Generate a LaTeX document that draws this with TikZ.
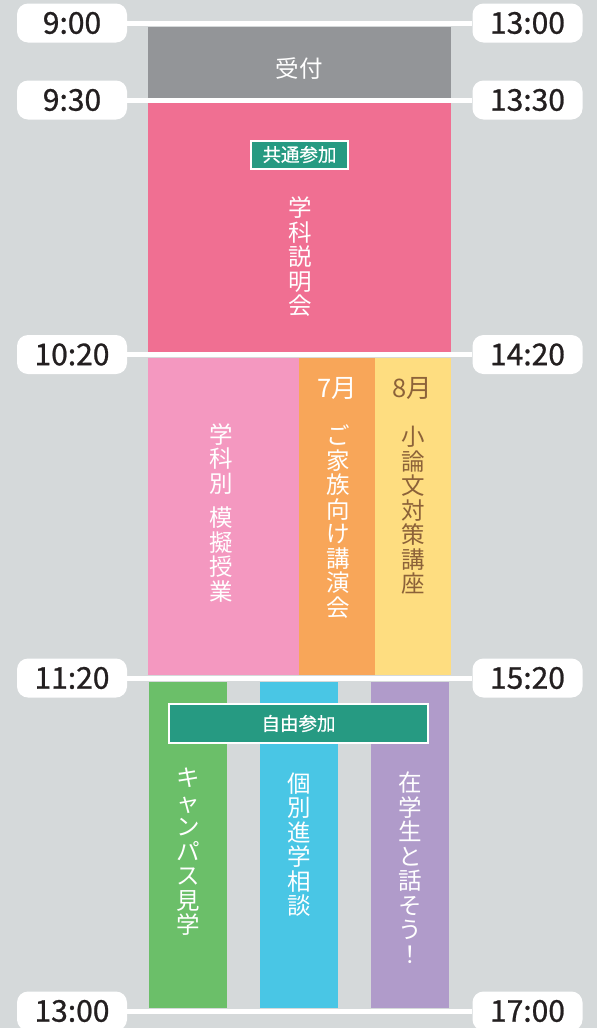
\documentclass[tikz,border=0pt]{standalone}
\usepackage{fontspec}
\setmainfont{Noto Sans CJK JP}
\newfontfamily\medfont{Noto Sans CJK JP}[FakeBold=0.8]
\definecolor{bg}{HTML}{D5D9DA}
\definecolor{cgray}{HTML}{939598}
\definecolor{cpink}{HTML}{F06F92}
\definecolor{clpink}{HTML}{F498C0}
\definecolor{corange}{HTML}{F8A659}
\definecolor{cyellow}{HTML}{FEDD80}
\definecolor{cgreen}{HTML}{6BBF69}
\definecolor{cblue}{HTML}{49C6E5}
\definecolor{cpurple}{HTML}{B09BCA}
\definecolor{cteal}{HTML}{269A82}
\definecolor{cbrown}{HTML}{8C6239}
\definecolor{cdark}{HTML}{231F20}
\tikzset{
  timebox/.style={fill=white, rounded corners=11pt, minimum width=110pt, minimum height=39pt, inner sep=0pt, text=cdark, font=\medfont\fontsize{30}{30}\selectfont},
  tline/.style={draw=white, line width=5pt},
  vtext/.style={text=white, align=center, inner sep=0pt, font=\fontsize{23.5}{24.5}\selectfont},
  htext/.style={text=white, inner sep=0pt, font=\fontsize{23.5}{24}\selectfont},
  mtext/.style={text=white, inner sep=0pt, font=\fontsize{25.5}{26}\selectfont},
  badge/.style={fill=cteal, draw=white, line width=2pt, inner sep=0pt, text=white, font=\medfont\fontsize{18.5}{18.5}\selectfont}
}
\begin{document}
\begin{tikzpicture}[x=1pt,y=-1pt]
\useasboundingbox (0,0) rectangle (597,1028);
\fill[bg] (0,0) rectangle (597,1028);
% blocks
\fill[cgray]   (148,27)  rectangle (451,98);
\fill[cpink]   (148,103) rectangle (451,352);
\fill[clpink]  (148,358) rectangle (299,675);
\fill[corange] (299,358) rectangle (375,675);
\fill[cyellow] (375,358) rectangle (451,675);
\fill[cgreen]  (149,682) rectangle (227,1008);
\fill[cblue]   (260,682) rectangle (338,1008);
\fill[cpurple] (371,682) rectangle (449,1008);
% time labels
\node[timebox] (l1) at (72,23)    {9:00};
\node[timebox] (r1) at (527.5,23) {13:00};
\node[timebox] (l2) at (72,100)    {9:30};
\node[timebox] (r2) at (527.5,100) {13:30};
\node[timebox] (l3) at (72,354.5)    {10:20};
\node[timebox] (r3) at (527.5,354.5) {14:20};
\node[timebox] (l4) at (72,678)    {11:20};
\node[timebox] (r4) at (527.5,678) {15:20};
\node[timebox] (l5) at (72,1011)    {13:00};
\node[timebox] (r5) at (527.5,1011) {17:00};
\draw[tline] (l1.east) -- (r1.west);
\draw[tline] (l2.east) -- (r2.west);
\draw[tline] (l3.east) -- (r3.west);
\draw[tline] (l4.east) -- (r4.west);
\draw[tline] (l5.east) -- (r5.west);
% texts
\node[htext] (uketsuke) at (299,69) {受付};
\node[badge, minimum width=97pt, minimum height=28pt] (kyotsu) at (299.5,154.5) {共通参加};
\node[vtext] (setsumei) at (300,257) {学\\科\\説\\明\\会};
\node[vtext] (mogi) at (221,513) {学\\科\\別\\[10pt]模\\擬\\授\\業};
\node[mtext] (m7) at (337,388) {7月};
\node[vtext] (kazoku) at (338,521.5) {ご\\家\\族\\向\\け\\講\\演\\会};
\node[mtext, text=cbrown] (m8) at (412,388) {8月};
\node[vtext, text=cbrown] (shoron) at (413,510.5) {小\\論\\文\\対\\策\\講\\座};
\node[badge, minimum width=259pt, minimum height=39pt] (jiyu) at (298.5,723.5) {自由参加};
\node[vtext] (campus) at (188,852) {キ\\ャ\\ン\\パ\\ス\\見\\学};
\node[vtext] (kobetsu) at (299.5,844.5) {個\\別\\進\\学\\相\\談};
\node[vtext] (zaigaku) at (410,867.5) {在\\学\\生\\と\\話\\そ\\う\\！};
\end{tikzpicture}
\end{document}
